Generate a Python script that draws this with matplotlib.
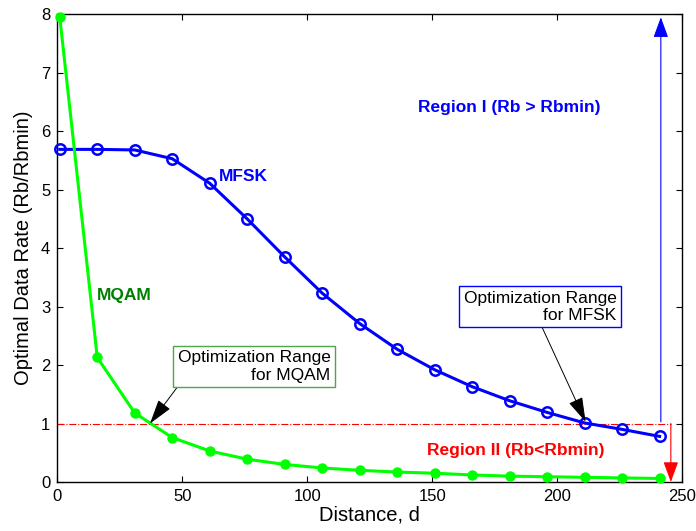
import matplotlib
matplotlib.use("Agg")
import matplotlib.pyplot as plt
import numpy as np

plt.rcParams['font.family'] = ['Liberation Sans', 'DejaVu Sans']

distance = [1, 16, 31, 46, 61, 76, 91, 106, 121, 136, 151, 166, 181, 196, 211, 226, 241]
mfsk = [5.69, 5.69, 5.68, 5.53, 5.11, 4.50, 3.85, 3.23, 2.71, 2.27, 1.92, 1.63, 1.39, 1.19, 1.01, 0.90, 0.78]
mqam = [7.95, 2.13, 1.18, 0.76, 0.53, 0.39, 0.30, 0.24, 0.20, 0.17, 0.15, 0.12, 0.10, 0.09, 0.08, 0.07, 0.06]
rb_min = 1.0
x_ticks = [0, 50, 100, 150, 200, 250]
y_ticks = [0, 1, 2, 3, 4, 5, 6, 7, 8]

fig = plt.figure(figsize=(6.96, 5.31), dpi=100)
ax = fig.add_axes([0.0823, 0.0923, 0.8977, 0.8807])

ax.plot(distance, mfsk, '-o', color=(0, 0, 1), lw=2.2, ms=7.5, mfc='none', mew=1.8, zorder=3,
        clip_on=False)
ax.plot(distance, mqam, '-o', color=(0, 1, 0), lw=2.2, ms=6.5, mfc=(0, 1, 0), mec=(0, 1, 0), zorder=3,
        clip_on=False)

# threshold line
ax.plot([0, 245.5], [rb_min, rb_min], color=(1, 0, 0), ls='-.', lw=0.8, zorder=2)

# region arrows
ax.annotate('', xy=(241.5, 7.95), xytext=(241.5, 1.03),
            arrowprops=dict(arrowstyle='-|>,head_length=0.9,head_width=0.33', color=(0, 0, 1),
                            lw=0.8, mutation_scale=14, shrinkA=0, shrinkB=0))
ax.annotate('', xy=(245.5, 0.0), xytext=(245.5, 1.0),
            arrowprops=dict(arrowstyle='-|>,head_length=0.9,head_width=0.33', color=(1, 0, 0),
                            lw=0.8, mutation_scale=14, shrinkA=0, shrinkB=0))

# labels
ax.text(64.5, 5.23, 'MFSK', color=(0, 0, 1), fontsize=12.5, fontweight='bold', va='center', ha='left')
ax.text(15.8, 3.19, 'MQAM', color=(0, 0.5, 0), fontsize=12.5, fontweight='bold', va='center', ha='left')
ax.text(181, 6.4, 'Region I (Rb > Rbmin)', color=(0, 0, 1), fontsize=12.5, fontweight='bold',
        va='center', ha='center')
ax.text(183.4, 0.54, 'Region II (Rb<Rbmin)', color=(1, 0, 0), fontsize=12.5, fontweight='bold',
        va='center', ha='center')

# optimization range annotations
ax.annotate('Optimization Range\nfor MQAM', xy=(37.1, 1.0), xytext=(109.3, 1.975),
            ha='right', va='center', multialignment='right', fontsize=12.5,
            bbox=dict(boxstyle='square,pad=0.25', fc='white', ec=(0.3, 0.65, 0.3), lw=1),
            arrowprops=dict(arrowstyle='-|>,head_length=1.1,head_width=0.33', color='black', lw=0.7,
                            mutation_scale=14, shrinkA=0, shrinkB=0, relpos=(0.02, 0.0)))
ax.annotate('Optimization Range\nfor MFSK', xy=(211.4, 1.03), xytext=(223.8, 2.995),
            ha='right', va='center', multialignment='right', fontsize=12.5,
            bbox=dict(boxstyle='square,pad=0.25', fc='white', ec=(0, 0, 1), lw=1),
            arrowprops=dict(arrowstyle='-|>,head_length=1.1,head_width=0.33', color='black', lw=0.7,
                            mutation_scale=14, shrinkA=0, shrinkB=0, relpos=(0.5, 0.0)))

ax.set_xlim(0, 250)
ax.set_ylim(0, 8)
ax.set_xticks(x_ticks)
ax.set_yticks(y_ticks)
ax.tick_params(direction='in', top=True, right=True, length=4, width=0.8, labelsize=12, pad=5)
for s in ax.spines.values():
    s.set_linewidth(1.0)
ax.set_xlabel('Distance, d', fontsize=14.5, labelpad=1)
ax.set_ylabel('Optimal Data Rate (Rb/Rbmin)', fontsize=14.5, labelpad=6)

fig.savefig('out.png', dpi=100)
